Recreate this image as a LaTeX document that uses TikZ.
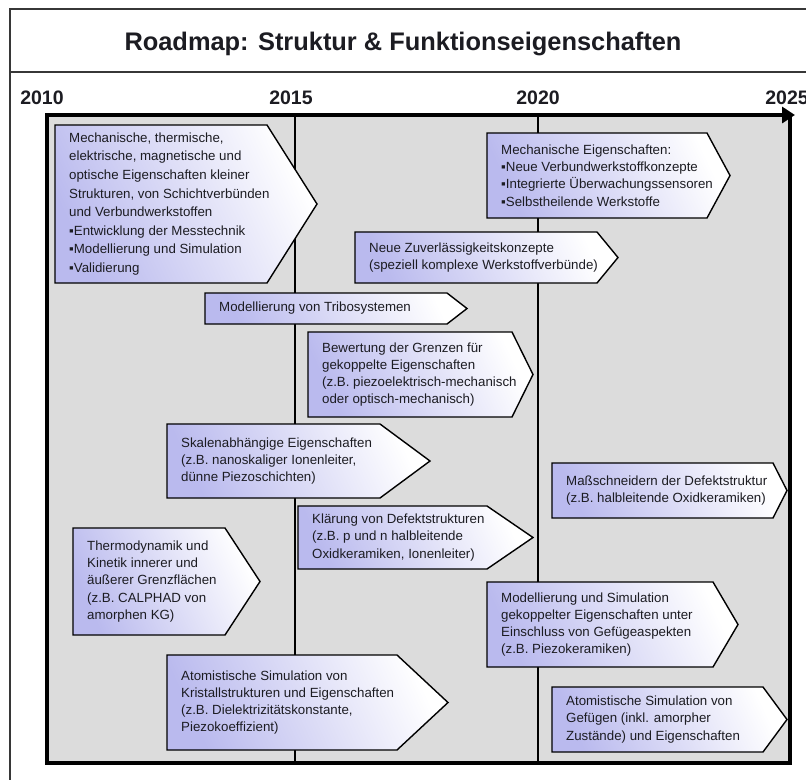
\documentclass[tikz,border=0pt]{standalone}
\usepackage{fontspec}
\setmainfont{Liberation Sans}
\usetikzlibrary{arrows.meta}

\definecolor{panelgray}{RGB}{220,220,220}
\definecolor{lav}{RGB}{186,186,238}
\definecolor{txt}{RGB}{28,28,34}
\definecolor{framegray}{RGB}{55,55,55}

\tikzset{
  framerule/.style={draw=framegray, line width=1.3pt},
  panel/.style={draw=black, fill=panelgray, line width=3.5pt},
  yearline/.style={draw=black, line width=2pt},
  yearlbl/.style={font=\bfseries\fontsize{19.5}{22}\selectfont, text=txt, inner sep=0pt},
  boxshade/.style={draw=black, line width=1.4pt, line join=miter,
    left color=lav, right color=white, shading angle=115},
  boxtext/.style={anchor=west, align=left, inner sep=0pt, text=txt,
    font=\fontsize{13.3}{17.2}\selectfont},
}

% roadmap box: [text options], name, left x, top y, end of straight edge, tip x, bottom y, text
\newcommand\rmbox[8][]{%
  \path[boxshade] (#3,#4) -- (#5,#4) -- (#6,{(#4+#7)/2}) -- (#5,#7) -- (#3,#7) -- cycle;
  \node[boxtext,#1] (#2) at ({#3+14},{(#4+#7)/2}) {#8};
}

\begin{document}
\begin{tikzpicture}[x=1pt,y=-1pt]
\useasboundingbox (0,0) rectangle (806,780);
\fill[white] (0,0) rectangle (806,780);

% outer frame and title band
\draw[framerule] (806,9) -- (10,9) -- (10,780);
\draw[framerule] (10,72) -- (806,72);
\node[inner sep=0pt, text=txt, font=\bfseries\fontsize{25.4}{28}\selectfont] (title) at (403,44)
  {Roadmap: Struktur \& Funktionseigenschaften};

% year labels
\node[yearlbl] (y2010) at (42,98) {2010};
\node[yearlbl] (y2015) at (291,98) {2015};
\node[yearlbl] (y2020) at (538,98) {2020};
\node[yearlbl] (y2025) at (787,98) {2025};

% time panel
\path[panel] (47,115) rectangle (790,763);
\coordinate (t15a) at (295,115); \coordinate (t15b) at (295,763);
\coordinate (t20a) at (538,115); \coordinate (t20b) at (538,763);
\draw[yearline] (t15a) -- (t15b);
\draw[yearline] (t20a) -- (t20b);
\coordinate (axisstart) at (45.5,115);
\coordinate (axisend) at (795,115);
\draw[line width=4.5pt, -{Triangle[length=13pt,width=16pt]}] (axisstart) -- (axisend);

% roadmap items
\rmbox[font=\fontsize{13.3}{18.6}\selectfont]{b1}{55}{125}{267}{317}{283}{Mechanische, thermische,\\elektrische, magnetische und\\optische Eigenschaften kleiner\\Strukturen, von Schichtverbünden\\und Verbundwerkstoffen\\▪Entwicklung der Messtechnik\\▪Modellierung und Simulation\\▪Validierung}
\rmbox{b2}{487}{133}{707}{730}{218}{Mechanische Eigenschaften:\\▪Neue Verbundwerkstoffkonzepte\\▪Integrierte Überwachungssensoren\\▪Selbstheilende Werkstoffe}
\rmbox{b3}{355}{232}{597}{618}{283}{Neue Zuverlässigkeitskonzepte\\(speziell komplexe Werkstoffverbünde)}
\rmbox{b4}{205}{293}{447}{467}{324}{Modellierung von Tribosystemen}
\rmbox{b5}{308}{332}{512}{533}{417}{Bewertung der Grenzen für\\gekoppelte Eigenschaften\\(z.B. piezoelektrisch-mechanisch\\oder optisch-mechanisch)}
\rmbox{b6}{167}{424}{380}{430}{498}{Skalenabhängige Eigenschaften\\(z.B. nanoskaliger Ionenleiter,\\dünne Piezoschichten)}
\rmbox{b7}{298}{506}{487}{533}{569}{Klärung von Defektstrukturen\\(z.B. p und n halbleitende\\Oxidkeramiken, Ionenleiter)}
\rmbox{b8}{73}{528}{225}{260}{635}{Thermodynamik und\\Kinetik innerer und\\äußerer Grenzflächen\\(z.B. CALPHAD von\\amorphen KG)}
\rmbox{b9}{167}{655}{397}{448}{750}{Atomistische Simulation von\\Kristallstrukturen und Eigenschaften\\(z.B. Dielektrizitätskonstante,\\Piezokoeffizient)}
\rmbox{b10}{552}{463}{773}{787}{518}{Maßschneidern der Defektstruktur\\(z.B. halbleitende Oxidkeramiken)}
\rmbox{b11}{487}{582}{713}{738}{667}{Modellierung und Simulation\\gekoppelter Eigenschaften unter\\Einschluss von Gefügeaspekten\\(z.B. Piezokeramiken)}
\rmbox{b12}{552}{687}{763}{787}{752}{Atomistische Simulation von\\Gefügen (inkl. amorpher\\Zustände) und Eigenschaften}
\end{tikzpicture}
\end{document}
